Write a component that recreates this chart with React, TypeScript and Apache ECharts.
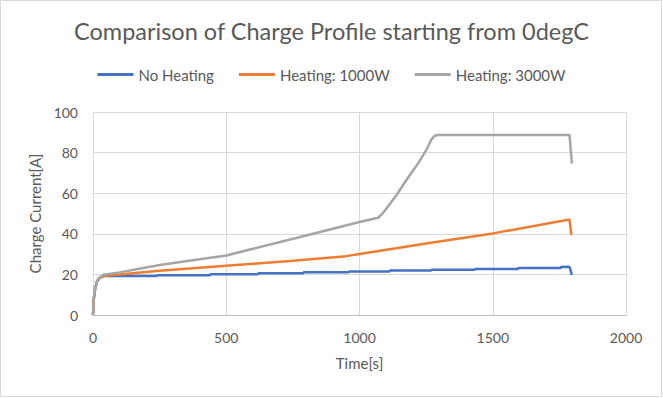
import React, { useEffect, useRef } from "react";
import * as echarts from "echarts";

const titleText = "Comparison of Charge Profile starting from 0degC";
const seriesNames = ["No Heating", "Heating: 1000W", "Heating: 3000W"];
const xTicks = [0, 500, 1000, 1500, 2000];
const yTicks = [0, 20, 40, 60, 80, 100];

const noHeating: [number, number][] = [
  [0, 0], [3, 8], [8, 13], [15, 16.5], [25, 18.3], [40, 19.2],
  [240, 19.2], [240, 19.6], [440, 19.6], [440, 20.1], [620, 20.1], [620, 20.6],
  [790, 20.6], [790, 21.0], [960, 21.0], [960, 21.4], [1114, 21.4], [1114, 21.9],
  [1270, 21.9], [1270, 22.3], [1433, 22.3], [1433, 22.7], [1595, 22.7], [1595, 23.2],
  [1756, 23.2], [1756, 23.7], [1785, 23.8], [1789, 23.4], [1797, 19.7],
];

const heating1000: [number, number][] = [
  [0, 0], [3, 8], [8, 13], [15, 16.5], [25, 18.3], [40, 19.3], [100, 19.9],
  [250, 21.8], [500, 24.3], [750, 26.7], [950, 29], [1000, 30], [1250, 35.2],
  [1500, 40.2], [1788, 47.0], [1795, 39.4],
];

const heating3000: [number, number][] = [
  [0, 0], [3, 8], [8, 13], [15, 16.5], [25, 18.5], [40, 19.8], [100, 21],
  [250, 24.6], [400, 27.5], [500, 29.3], [600, 32.6], [800, 39.2], [1000, 45.8],
  [1070, 47.9], [1085, 49.8], [1101, 52.5], [1139, 59.1], [1176, 66.5], [1220, 74.7],
  [1251, 81.3], [1270, 86.5], [1282, 88.3], [1295, 88.7], [1788, 88.7], [1791, 84],
  [1797, 74.6],
];

const colors = ["#4472C4", "#ED7D31", "#A5A5A5"];
const FONT = "Lato, 'Open Sans', sans-serif";

export default function App() {
  const ref = useRef<HTMLDivElement>(null);
  useEffect(() => {
    if (!ref.current) return;
    const chart = echarts.init(ref.current, undefined, { renderer: "svg" });
    const data = [noHeating, heating1000, heating3000];
    chart.setOption({
      animation: false,
      backgroundColor: "#ffffff",
      textStyle: { fontFamily: FONT },
      title: {
        text: titleText,
        left: "center",
        top: 14,
        textStyle: { fontFamily: FONT, fontSize: 23.5, fontWeight: "normal", color: "#595959" },
      },
      legend: {
        top: 62,
        left: "center",
        itemWidth: 36,
        itemHeight: 3,
        itemGap: 25,
        icon: "rect",
        data: seriesNames,
        textStyle: { fontFamily: FONT, fontSize: 15, color: "#595959" },
      },
      graphic: [
        {
          type: "rect",
          shape: { x: 0.5, y: 0.5, width: 661, height: 396 },
          style: { fill: "none", stroke: "#d9d9d9", lineWidth: 1 },
          silent: true,
        },
      ],
      grid: { left: 93, right: 37, top: 112, bottom: 83, containLabel: false },
      xAxis: {
        type: "value",
        min: xTicks[0],
        max: xTicks[xTicks.length - 1],
        interval: 500,
        name: "Time[s]",
        nameLocation: "middle",
        nameGap: 40,
        nameTextStyle: { fontFamily: FONT, fontSize: 15, color: "#595959" },
        axisLine: { show: true, lineStyle: { color: "#bfbfbf", width: 1 } },
        axisTick: { show: false },
        axisLabel: {
          margin: 15,
          fontFamily: FONT,
          fontSize: 14,
          color: "#595959",
          formatter: (v: number) => String(v),
        },
        splitLine: { show: true, lineStyle: { color: "#d9d9d9", width: 1 } },
      },
      yAxis: {
        type: "value",
        min: yTicks[0],
        max: yTicks[yTicks.length - 1],
        interval: 20,
        name: "Charge Current[A]",
        nameLocation: "middle",
        nameGap: 51,
        nameTextStyle: { fontFamily: FONT, fontSize: 15, color: "#595959" },
        axisLine: { show: false },
        axisTick: { show: false },
        axisLabel: {
          margin: 15,
          fontFamily: FONT,
          fontSize: 14,
          color: "#595959",
          formatter: (v: number) => String(v),
        },
        splitLine: { show: true, lineStyle: { color: "#d9d9d9", width: 1 } },
      },
      series: seriesNames.map((name, i) => ({
        name,
        type: "line",
        data: data[i],
        showSymbol: false,
        symbol: "none",
        color: colors[i],
        lineStyle: { color: colors[i], width: 2.5 },
        z: 3 + i,
      })),
    });
    return () => chart.dispose();
  }, []);
  return (
    <div
      ref={ref}
      style={{ position: "absolute", left: 0, top: 0, width: 663, height: 398 }}
    />
  );
}
